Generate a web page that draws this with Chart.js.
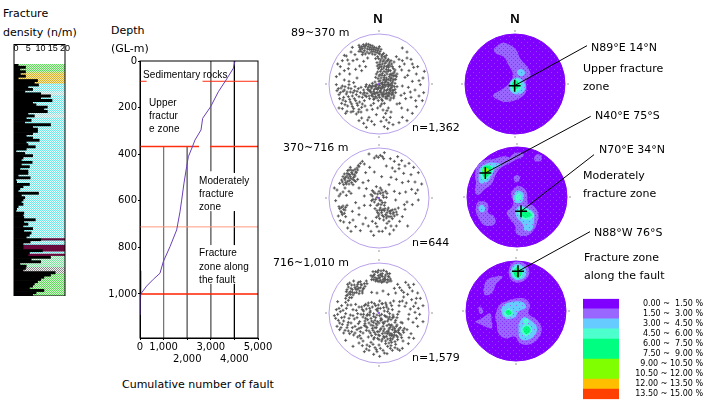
<!DOCTYPE html>
<html>
<head>
<meta charset="utf-8">
<script src="https://cdn.jsdelivr.net/npm/chart.js@4"></script>
<style>
  html, body { margin: 0; background: #fff; }
  #page { position: relative; width: 720px; height: 419px; overflow: hidden; }
  canvas { position: absolute; }
  .t { position: absolute; white-space: nowrap; color: #000; font: 11px "DejaVu Sans", sans-serif; transform: translateY(-50%); }
  .s { font: 10px "Liberation Sans", sans-serif; letter-spacing: 0.1px; }
  .b { font: bold 13px "Liberation Sans", sans-serif; transform: translate(-50%, -50%); }
</style>
</head>
<body>
<div id="page">
  <canvas id="density" width="64" height="252" style="left:8px;top:44px"></canvas>
  <canvas id="curve" width="180" height="320" style="left:95px;top:50px"></canvas>
  <canvas id="pts1" width="120" height="120" style="left:319px;top:24px"></canvas>
  <canvas id="pts2" width="120" height="120" style="left:319px;top:138px"></canvas>
  <canvas id="pts3" width="120" height="120" style="left:319px;top:253px"></canvas>
  <canvas id="net1" width="180" height="180" style="left:425px;top:-6px"></canvas>
  <canvas id="net2" width="180" height="180" style="left:427px;top:107px"></canvas>
  <canvas id="net3" width="180" height="180" style="left:426px;top:221px"></canvas>
  <canvas id="legend" width="120" height="110" style="left:583px;top:294px"></canvas>

  <div class="t" style="left:3px;top:13px">Fracture</div>
  <div class="t" style="left:3px;top:32px">density (n/m)</div>
  <div class="t" style="left:111px;top:30px">Depth</div>
  <div class="t" style="left:111px;top:48px">(GL-m)</div>
  <div class="t s" style="left:143px;top:74px">Sedimentary rocks</div>
  <div class="t s" style="left:149px;top:102px">Upper</div>
  <div class="t s" style="left:149px;top:115px">fractur</div>
  <div class="t s" style="left:149px;top:128px">e zone</div>
  <div class="t s" style="left:199px;top:180px">Moderately</div>
  <div class="t s" style="left:199px;top:193px">fracture</div>
  <div class="t s" style="left:199px;top:206px">zone</div>
  <div class="t s" style="left:199px;top:252px">Fracture</div>
  <div class="t s" style="left:199px;top:266px">zone along</div>
  <div class="t s" style="left:199px;top:279px">the fault</div>
  <div class="t" style="left:122px;top:384px">Cumulative number of fault</div>

  <div class="t b" style="left:378px;top:18px">N</div>
  <div class="t b" style="left:515px;top:18px">N</div>
  <div class="t" style="left:291px;top:32px">89~370 m</div>
  <div class="t" style="left:283px;top:147px">370~716 m</div>
  <div class="t" style="left:273px;top:262px">716~1,010 m</div>
  <div class="t" style="left:412px;top:127px">n=1,362</div>
  <div class="t" style="left:412px;top:242px">n=644</div>
  <div class="t" style="left:412px;top:357px">n=1,579</div>

  <div class="t" style="left:591px;top:47px">N89°E 14°N</div>
  <div class="t" style="left:583px;top:68px">Upper fracture</div>
  <div class="t" style="left:583px;top:86px">zone</div>
  <div class="t" style="left:595px;top:115px">N40°E 75°S</div>
  <div class="t" style="left:599px;top:149px">N70°E 34°N</div>
  <div class="t" style="left:583px;top:175px">Moderately</div>
  <div class="t" style="left:583px;top:193px">fracture zone</div>
  <div class="t" style="left:594px;top:232px">N88°W 76°S</div>
  <div class="t" style="left:584px;top:257px">Fracture zone</div>
  <div class="t" style="left:584px;top:275px">along the fault</div>
</div>

<script>
// fracture density per depth row, n/m
const fractureDensity = [
  0.9,3.9,1.6,3.9,1.8,3.9,0.9,8.8,7.5,9.2,4.9,6.8,3.6,10.1,14.1,10.1,14.7,6.8,8.2,12.8,11.4,12.8,4.9,7.5,4.2,6.2,3.6,14.1,
  6.8,8.8,8.8,6.8,4.2,6.8,9.5,4.2,4.9,7.9,4.2,0,3.6,6.8,2.9,2.2,6.6,2.2,5.5,1.6,4.9,4.9,0.9,5.8,0,0.3,5.5,2.9,1.6,0.9,9.2,
  2.2,3.6,2.9,2.2,2.9,0.9,0.3,0,3.2,2.9,3.2,7.9,3.2,4.9,2.9,6.8,3.2,6.2,5.5,4.2,10.1,5.8,2.9,2.9,2.9,10.8,5.5,4.9,14.1,6.2,
  10.1,1.6,4.2,3.9,2.9,16,14.1,11.4,10.1,8.8,7.5,6.8,5.5,11.4,8.2,6.8
];
// rock zones down the log: [zone, rows]
const zoneRuns = [
  ['green',4],['yellow',5],['cyan',4],['pale',1],['cyan',9],['pale',1],['cyan',55],['maroon',1],['cyan',2],['maroon',3],
  ['cyan',1],['maroon',1],['paleGreen',5],['gray',3],['green',10]
];
const densityTicks = [0, 5, 10, 15, 20];

// cumulative fault count against depth
const cumulativeCount = [4025,3955,3644,3319,2994,2655,2585,2330,2232,2048,1977,1864,1766,1695,1554,1271,988,847,565,282,30,0];
const cumulativeDepth = [0,31,82,132,196,246,296,339,365,411,453,524,597,647,725,797,861,911,937,966,1000,1090];
const countTicks = [0, 1000, 2000, 3000, 4000, 5000];
const depthTicks = [0, 200, 400, 600, 800, 1000];
// boundaries and guide lines: [x0, depth0, x1, depth1]
const boundary89 = [[0,87,280,87],[2650,87,5000,87]];
const boundary370 = [[0,367,2500,367],[2970,367,5000,367]];
const boundary716 = [[0,712,5000,712]];
const boundary1000 = [[0,1000,5000,1000]];
const guide1000 = [[1000,367,1000,1189]];
const guide2000 = [[2000,367,2000,1189]];
const guide3000 = [[3000,0,3000,473],[3000,645,3000,790],[3000,957,3000,1189]];
const guide4000 = [[4000,0,4000,480],[4000,645,4000,790],[4000,957,4000,1189]];
const axisMark = [[0,900,0,1000]];

// pole plots, x,y pairs with the net radius = 150 and north up
const poles1 = [
  -52,112,-47,118,-42,108,-38,120,-33,112,-29,104,-25,116,-21,108,-18,98,-14,110,-10,102,-6,94,-2,106,3,98,-44,100,-36,96,-56,104,-60,116,-24,96,-12,88,
  2,90,8,84,14,92,20,78,-4,82,-10,76,5,72,12,68,18,62,25,70,30,60,-6,64,0,58,7,52,14,48,22,44,28,50,34,40,40,52,46,36,-2,46,4,38,10,32,17,26,24,30,31,22,38,18,44,24,-8,30,0,24,6,18,13,12,20,8,27,4,34,10,41,6,50,14,36,70,45,66,52,82,60,74,62,52,
  -40,-8,-34,-16,-28,-4,-22,-12,-16,-22,-10,-8,-4,-16,2,-4,8,-14,14,-24,20,-6,26,-16,32,-28,38,-10,44,-20,-36,-28,-30,-36,-24,-26,-18,-38,-12,-30,-6,-42,0,-32,6,-26,12,-38,18,-30,24,-44,30,-36,36,-42,42,-30,48,-16,-46,-18,-42,-34,-20,2,-12,6,-6,-2,0,8,6,2,12,-6,18,4,24,-2,-14,-44,-2,-50,10,-50,
  -9,-3,3,-23,15,-11,28,-8,35,-21,-15,-6,-27,-18,9,-33,21,-38,33,-48,40,-4,45,-36,11,-1,-1,-12,-19,-30,27,-33,
  -128,-2,-122,-14,-116,-26,-110,-6,-104,-18,-98,-30,-92,-12,-86,-24,-80,-36,-74,-20,-68,-32,-62,-14,-56,-26,-50,-40,-118,-44,-112,-58,-106,-40,-100,-52,-94,-66,-88,-46,-82,-60,-76,-74,-70,-50,-64,-64,-58,-54,-52,-70,-96,-82,-84,-84,-120,-72,-68,-90,-54,-84,-42,-66,-36,-78,-24,-64,-128,22,-118,30,-104,12,-90,8,
  -110,70,-98,84,-84,96,-72,88,-90,60,-78,70,-66,74,-104,40,-116,52,-88,30,-70,44,-58,54,-46,68,-34,78,-80,110,
  70,108,84,96,96,74,104,50,90,40,76,60,78,20,100,8,112,30,124,-2,132,18,136,38,70,-6,88,-10,108,-18,120,-36,134,-26,66,-34,80,-44,62,-58,
  4,-66,12,-78,20,-88,28,-72,34,-100,22,-108,30,-116,16,-128,26,-134,42,-122,60,-116,70,-100,84,-110,100,-88,112,-68,-20,-76,-8,-92,-30,-100,-46,-118,-60,-110,-38,-130,-14,-122,
  -50,106,-45,113,-40,115,-35,105,-31,119,-27,110,-23,103,-19,114,-16,104,-12,96,-8,108,-4,100,0,92,1,112,6,104,-58,110,-54,98,-48,94,-41,90,-30,92,-20,90,
  10,88,16,82,22,86,28,74,32,66,-1,76,3,66,9,78,15,72,21,66,27,56,33,54,38,60,43,46,48,42,54,30,3,58,10,60,16,54,23,52,29,42,36,30,42,32,48,26,-5,54,1,50,8,44,15,38,21,36,27,38,33,28,39,26,45,14,52,22,-4,36,3,28,9,26,15,20,22,18,28,14,35,16,42,12,48,2,-10,20,-3,16,3,10,10,4,16,14,23,12,30,-1,37,2,
  -38,-2,-32,-10,-26,-22,-20,-6,-14,-16,-8,-26,-2,-10,4,-20,10,-8,16,-18,22,-28,28,-2,34,-14,40,-26,46,-8,-44,-26,-38,-38,-28,-44,-22,-34,-16,-46,-10,-38,-4,-26,2,-40,8,-46,14,-32,20,-42,26,-36,32,-18,38,-32,44,-42,50,-26,54,-8,-30,-20,-24,-8,-14,-28,-8,-14,-2,-34,4,-12,10,-30,16,-2,22,-20,28,-26,34,-4,40,-18,
  -126,-20,-114,-12,-108,-22,-102,-8,-96,-24,-90,-2,-84,-14,-78,-26,-72,-8,-66,-22,-60,-38,-54,-10,-48,-30,-120,-32,-108,-48,-102,-62,-92,-38,-86,-54,-80,-68,-74,-44,-66,-58,-60,-76,-50,-60,-44,-50,-110,-74,-100,-88,-78,-82,-62,-84,
  -94,72,-60,98,-40,52,-52,40,-66,18,-76,4,-92,46,-124,60,-104,86,-50,88,
  70,70,84,78,100,60,116,52,68,42,86,26,120,10,94,-24,76,-28,110,-50,96,-40,130,-50,54,-60,68,-72,86,-78,
  16,-58,24,-80,8,-60,36,-84,14,-100,6,-112,-4,-72,-16,-58,-34,-108,-52,-102,-22,-112
];
const poles2 = [
  -118,44,-112,54,-106,40,-100,62,-94,50,-88,70,-96,74,-84,58,-78,82,-90,84,-72,66,-66,90,-82,46,-104,72,-76,62,-70,78,-86,92,-92,60,-80,72,-74,52,-98,42,-62,98,-56,104,-50,110,-44,102,-126,24,-116,12,-108,18,-98,8,-90,20,-84,14,-102,30,-120,6,
  -8,126,-2,122,4,128,10,124,14,118,-14,120,-30,132,16,136,
  -24,10,-18,-4,-12,14,-6,2,0,20,6,-8,12,8,18,-14,24,14,-20,22,-14,-12,-2,-18,8,24,16,-22,22,2,4,30,-8,34,-26,-22,
  -12,-32,-4,-44,4,-30,10,-52,16,-38,22,-60,28,-30,34,-46,40,-36,46,-54,52,-42,-8,-58,2,-62,14,-66,30,-70,40,-62,58,-30,24,-44,8,-38,36,-56,
  -120,-26,-114,-40,-108,-24,-102,-36,-96,-22,-110,-50,-100,-56,-116,-68,-106,-72,-88,-74,-78,-66,-94,-90,-84,-100,-70,-86,-56,-98,-48,-78,-40,-60,-60,-30,-44,-22,-32,-84,-24,-100,-16,-112,-6,-86,10,-100,20,-90,32,-108,44,-96,52,-84,62,-70,86,-84,
  34,118,46,110,56,124,68,112,78,96,90,104,104,92,118,76,96,70,74,74,60,88,48,80,36,62,52,56,70,46,88,50,108,48,128,42,116,24,98,26,80,18,62,14,-40,76,-32,52,-48,46,-60,30,-64,56,-28,92,-14,78,8,64,22,96,
  84,-12,100,-20,118,-6,78,-34,-70,-14,-44,6,-38,28,-134,30,-130,-8,-122,-54,
  -110,48,-104,58,-100,46,-96,66,-92,72,-88,52,-86,64,-82,76,-78,56,-74,70,-72,86,-68,76,-64,84,-60,94,-84,84,-94,82,-102,54,-108,64,-90,42,-78,40,-70,50,
  -20,6,-16,18,-10,-4,-4,12,2,-6,4,14,10,-14,14,2,20,20,-22,-8,-6,-22,12,16,6,-20,
  -6,-38,0,-48,8,-44,12,-34,20,-50,26,-36,30,-56,36,-38,42,-48,48,-34,44,-44,18,-32,24,-54,2,-36,14,-56,-2,-54,32,-40,54,-50,
  -118,-32,-112,-28,-106,-34,-100,-28,-112,-44,-104,-46,
  -20,-70,-10,-76,0,-100,24,-76,36,-84,70,-56,76,-20,110,14,40,90,60,100,30,40,46,20,50,-6,-60,-50,-80,-40
];
const poles3 = [
  -22,100,-16,112,-10,96,-4,122,2,106,8,92,14,128,20,114,26,100,32,118,-18,124,-6,104,4,116,12,100,18,108,24,92,30,108,36,96,-12,106,0,94,6,126,16,96,-2,112,10,110,
  -98,64,-92,78,-86,56,-80,70,-74,84,-68,62,-62,92,-56,76,-50,66,-44,88,-38,96,-94,54,-88,90,-76,96,-70,72,-60,58,-84,74,-66,80,-52,84,-100,44,-92,38,-82,46,-46,74,-56,94,
  -52,18,-46,6,-40,26,-34,-4,-28,14,-22,32,-16,-10,-10,22,-4,6,2,36,8,-4,14,16,20,30,26,4,32,-12,38,22,44,36,-48,-12,-42,-24,-36,-8,-30,-30,-24,-16,-18,-38,-12,-22,-6,-6,0,-30,6,-16,12,-40,18,-26,24,-12,30,-34,36,-20,42,-6,48,-28,54,-14,60,4,
  -20,-46,-14,-58,-8,-44,-2,-66,4,-50,10,-62,16,-48,22,-70,28,-54,34,-76,40,-50,46,-66,52,-40,58,-58,64,-44,70,-30,-26,-60,-32,-72,-38,-52,-44,-38,20,-84,30,-90,40,-78,48,-86,56,-72,66,-66,72,-52,26,-100,36,-98,10,-78,0,-80,-14,-74,
  -3,14,9,28,17,-8,23,18,-27,2,-33,22,29,-18,-9,-32,5,-22,35,-38,41,-14,47,-46,13,-54,25,-62,37,-68,51,-56,-5,-56,-17,-28,-39,-40,33,-44,
  -134,-8,-128,10,-122,-22,-116,4,-110,-34,-104,-12,-98,14,-92,-28,-86,-6,-80,-44,-74,-18,-68,8,-62,-32,-56,-56,-126,-40,-118,-50,-106,-60,-96,-44,-88,-62,-76,-66,-66,-50,-58,-68,-112,22,-100,32,-124,34,-84,24,-70,26,-60,18,
  46,74,56,86,68,68,80,92,92,76,104,86,116,60,74,48,86,56,98,40,110,30,124,44,132,22,62,34,78,20,94,12,108,2,122,-4,132,-26,88,-18,102,-28,116,-40,84,-50,96,-62,72,-84,88,-92,104,-76,-22,62,-6,60,12,66,28,56,
  -60,-90,-48,-84,-36,-96,-24,-88,-12,-104,0,-96,12,-112,24,-122,-30,-112,-44,-116,-16,-124,2,-130,-6,-116,40,-112,56,-108,70,-106,-78,-100,-100,-82,
  -20,108,-14,116,-8,100,-2,128,4,98,10,118,16,104,22,124,28,110,34,102,-24,112,-10,124,0,104,6,112,12,94,20,100,26,118,30,96,-16,100,-4,96,
  -96,70,-90,60,-82,84,-78,54,-72,76,-66,70,-64,86,-58,66,-54,86,-48,72,-42,80,-36,88,-94,86,-86,64,-74,60,-62,74,-50,60,-80,62,-98,52,-88,46,
  -50,10,-44,22,-38,12,-32,30,-26,6,-20,18,-14,28,-8,10,-2,24,4,14,10,28,16,6,22,24,28,12,34,30,40,10,-46,-4,-40,-16,-34,-20,-28,-6,-22,-24,-16,-2,-10,-14,-4,-26,2,-8,8,-20,14,-32,20,-10,26,-24,32,-2,38,-36,44,-12,50,-22,56,-4,-42,-32,-36,-44,-30,-54,-24,-36,-18,-52,-12,-44,-6,-36,0,-56,6,-46,12,-28,18,-60,24,-38,30,-48,36,-62,42,-42,48,-52,54,-36,60,-48,66,-28,-22,-68,-16,-78,-10,-64,-4,-76,2,-68,8,-84,14,-70,20,-92,26,-78,32,-66,38,-88,44,-72,50,-94,56,-80,62,-62,68,-74,74,-58,-48,-60,-54,-44,-58,-26,-54,-4,30,-60,40,-66,46,-58,52,-68,58,-52,16,-74,24,-56,34,-82,
  -130,-16,-124,-4,-118,-30,-112,-14,-106,-24,-100,-2,-94,-36,-90,-16,-84,-30,-78,-8,-72,-40,-66,-14,-60,-46,-114,-44,-102,-52,-92,-54,-82,-56,-72,-60,-64,-72,-54,-76,-120,14,-108,8,-94,24,-78,10,-64,-2,
  50,60,62,76,74,62,88,84,100,66,112,44,70,36,82,30,104,20,118,14,60,22,90,-4,112,-16,76,-46,90,-74,
  -50,-98,-38,-108,-28,-100,-18,-94,-8,-110,4,-106,16,-120,34,-106,48,-104,62,-112
];

// density contours of the poles, one list per class: x,y outline pairs
const net1Lilac = [[-64,106,-39,123,-14,116,4,101,16,76,41,46,46,26,34,11,34,-19,26,-34,1,-49,-29,-54,-54,-46,-66,-34,-44,-19,-19,1,-6,26,-19,56,-34,81,-59,93]];
const net1Blue = [[6,34,8,42,20,44,30,34,22,24,10,26],[-17,1,-9,13,11,19,26,6,32,-11,21,-27,1,-31,-14,-21]];
const net1Aqua = [[-12,4,0,14,14,10,20,-6,12,-20,-2,-24,-12,-14]];
const net1Green = [[-9,2,0,10,10,6,12,-6,4,-16,-6,-14]];
const net1Pole = [-1, -5];
const net1Label = [216, 115];

const net2Lilac = [
  [-21,119,-6,132,14,132,21,124,1,114,-21,102,-46,89,-63,69,-76,39,-96,24,-116,6,-126,14,-123,44,-126,64,-119,94,-101,109,-71,114,-41,122],
  [52,120,60,128,72,125,74,112,62,106,52,110],
  [-11,59,-1,66,9,59,4,46,-6,46],
  [-123,-26,-116,-14,-96,-14,-86,-26,-86,-48,-71,-56,-64,-74,-76,-86,-101,-83,-116,-61,-123,-46],
  [-19,9,-6,29,14,31,29,14,34,-21,49,-26,64,-51,59,-81,49,-101,29,-116,-1,-111,-6,-86,-21,-66,-31,-46,-16,-31,-11,-16]
];
const net2Blue = [
  [-116,59,-109,89,-86,102,-61,102,-46,96,-66,84,-76,64,-91,44,-111,42],
  [-116,-31,-106,-23,-96,-31,-99,-44,-111,-44],
  [-11,4,-1,19,16,14,21,-1,14,-16,-1,-18,-11,-11],
  [-6,-41,9,-26,24,-31,49,-46,51,-71,44,-98,24,-101,17,-81,-1,-61]
];
const net2Aqua = [
  [-109,69,-103,89,-83,96,-71,86,-81,64,-96,51,-106,54],
  [-4,4,7,12,14,-1,7,-11,-3,-8],
  [1,-43,14,-31,34,-39,51,-51,47,-64,24,-68,9,-58]
];
const net2Green = [[-106,72,-99,92,-81,92,-76,82,-86,64,-99,59],[7,-41,17,-36,34,-44,44,-54,29,-62,14,-56]];
const net2Lime = [[-104,80,-94,88,-84,80,-94,68]];
const net2PoleA = [-95, 72];
const net2LabelA = [221, 242];
const net2PoleB = [12, -43];
const net2LabelB = [231, 127];

const net3Lilac = [
  [-23,118,-13,143,10,148,32,138,40,113,27,93,2,85,-16,95],
  [-98,63,-88,93,-63,103,-40,103,-58,83,-73,53,-93,48],
  [-113,11,-106,13,-98,-2,-106,-9,-111,-2],
  [-123,-32,-103,-22,-78,-7,-73,-32,-73,-52,-103,-42],
  [-63,-17,-53,13,-33,28,22,38,42,18,37,-7,62,-27,77,-52,67,-82,42,-100,12,-97,-3,-77,-33,-82,-53,-67,-58,-37]
];
const net3Blue = [
  [-18,118,-6,138,12,140,30,123,27,103,7,93,-10,100],
  [-46,3,-33,21,17,28,30,11,7,-2,-3,-19,-33,-22],
  [7,-42,22,-19,42,-27,62,-47,57,-72,34,-87,12,-82]
];
const net3Aqua = [
  [-13,118,0,135,17,131,22,113,12,98,-4,100],
  [-38,-2,-23,8,-8,-2,-16,-15,-33,-15],
  [14,-55,30,-39,47,-52,44,-69,24,-75],
  [22,-25,34,-22,37,-35,25,-37]
];
const net3Green = [[-8,120,4,131,15,123,17,111,7,100,-4,105],[-33,-2,-23,3,-13,-5,-23,-12],[20,-55,32,-45,44,-57,30,-69]];
const net3Pole = [6, 119];
const net3Label = [222, 238];

const legendLabels = ['0.00 ~  1.50 %','1.50 ~  3.00 %','3.00 ~  4.50 %','4.50 ~  6.00 %','6.00 ~  7.50 %','7.50 ~  9.00 %','9.00 ~ 10.50 %','10.50 ~ 12.00 %','12.00 ~ 13.50 %','13.50 ~ 15.00 %'];
const legendColors = ['#8000ff','#9966ff','#66ccff','#4dffcc','#00ff80','#00ff80','#80ff00','#80ff00','#ffbf00','#ff4000'];

const FONT = 'DejaVu Sans';
const NET_RADIUS = 150;

Chart.defaults.animation = false;
Chart.defaults.responsive = false;
Chart.defaults.layout.autoPadding = false;
Chart.defaults.plugins.legend.display = false;
Chart.defaults.plugins.tooltip.enabled = false;
Chart.defaults.font.family = FONT;
Chart.defaults.color = '#000';

function pairs(flat) {
  const out = [];
  for (let i = 0; i < flat.length; i += 2) out.push({ x: flat[i], y: flat[i + 1] });
  return out;
}

// screen-tone fill like the original bitmap
function tone(base, dot, step) {
  const c = document.createElement('canvas');
  c.width = c.height = step;
  const g = c.getContext('2d');
  g.fillStyle = base;
  g.fillRect(0, 0, step, step);
  g.fillStyle = dot;
  g.fillRect(0, 0, 1, 1);
  if (step % 2 === 0) g.fillRect(step / 2, step / 2, 1, 1);
  return g.createPattern(c, 'repeat');
}

const zoneFills = {
  green: tone('#d0f8c8', '#60d860', 2),
  yellow: tone('#f8e8a0', '#d8b030', 2),
  cyan: tone('#e4ffff', '#70e8e8', 2),
  pale: tone('#f4f4f4', '#d0d0d0', 2),
  maroon: '#6a0a3c',
  paleGreen: tone('#e0fae8', '#80e0a0', 2),
  gray: tone('#f0f0f0', '#8a8a8a', 2)
};
const zoneRows = zoneRuns.flatMap(([zone, rows]) => Array(rows).fill(zone));

// outline round the whole canvas / plot
const boxPlugin = {
  id: 'box',
  afterDatasetsDraw(chart) {
    const a = chart.chartArea, ctx = chart.ctx;
    ctx.save();
    ctx.strokeStyle = '#000';
    ctx.lineWidth = 1;
    const top = chart.canvas.id === 'density' ? 0.5 : a.top;
    ctx.strokeRect(a.left, top, a.right - a.left, a.bottom - top);
    ctx.restore();
  }
};

new Chart(document.getElementById('density'), {
  type: 'bar',
  data: {
    labels: fractureDensity.map((_, i) => i),
    datasets: [
      { data: fractureDensity.map(v => [-0.8, v]), backgroundColor: '#000', order: 0 },
      { data: fractureDensity.map(v => [v, 20]), backgroundColor: fractureDensity.map((_, i) => zoneFills[zoneRows[i]] || zoneFills.cyan), order: 1 }
    ]
  },
  plugins: [boxPlugin],
  options: {
    indexAxis: 'y',
    layout: { padding: { left: 6, right: 5 } },
    datasets: { bar: { barPercentage: 1, categoryPercentage: 1, grouped: false } },
    scales: {
      x: {
        position: 'top', min: -0.8, max: 20,
        afterBuildTicks: a => { a.ticks = densityTicks.map(value => ({ value })); },
        afterFit: a => { a.height = 20; },
        grid: { display: false }, border: { display: false },
        ticks: { autoSkip: false, maxRotation: 0, padding: 2, font: { size: 9, family: 'Liberation Sans' } }
      },
      y: { display: false }
    }
  }
});

function segments(list, color, width) {
  return list.map(s => ({ data: pairs(s), showLine: true, borderColor: color, borderWidth: width, pointRadius: 0 }));
}

new Chart(document.getElementById('curve'), {
  type: 'scatter',
  data: {
    datasets: [
      { data: cumulativeCount.map((x, i) => ({ x, y: cumulativeDepth[i] })), showLine: true, borderColor: '#6a3fb8', borderWidth: 1, pointRadius: 0 },
      ...segments(axisMark, '#000', 2.5),
      ...segments(boundary89, '#ff3010', 1),
      ...segments(boundary370, '#ff3010', 1.5),
      ...segments(boundary716, '#ff9a80', 1),
      ...segments(boundary1000, '#ff2000', 1.5),
      ...segments(guide1000, '#777', 1),
      ...segments(guide2000, '#777', 1),
      ...segments(guide3000, '#777', 1),
      ...segments(guide4000, '#000', 1)
    ]
  },
  plugins: [boxPlugin],
  options: {
    layout: { padding: { top: 11, right: 17 } },
    scales: {
      x: {
        min: 0, max: 5000,
        afterBuildTicks: a => { a.ticks = countTicks.map(value => ({ value })); },
        afterFit: a => { a.height = 32; },
        grid: { drawOnChartArea: false, tickLength: 2, color: '#000' },
        border: { color: '#000' },
        ticks: {
          autoSkip: false, maxRotation: 0, padding: 1, font: { size: 10 },
          callback: v => {
            const s = v.toLocaleString('en-US');
            return (v === 2000 || v === 4000) ? ['', s] : s;
          }
        }
      },
      y: {
        reverse: true, min: 0, max: 1189,
        afterBuildTicks: a => { a.ticks = depthTicks.map(value => ({ value })); },
        afterFit: a => { a.width = 45; },
        grid: { drawOnChartArea: false, tickLength: 2, color: '#000' },
        border: { color: '#000' },
        ticks: { autoSkip: false, padding: 1, font: { size: 10 }, callback: v => v.toLocaleString('en-US') }
      }
    }
  }
});

// net circle and its N/E/S/W marks, sized through the scales
function netPlugin(fill, edge) {
  return {
    id: 'netCircle',
    beforeDatasetsDraw(chart) {
      const sx = chart.scales.x, sy = chart.scales.y, ctx = chart.ctx;
      const cx = sx.getPixelForValue(0), cy = sy.getPixelForValue(0);
      const r = sx.getPixelForValue(NET_RADIUS) - cx;
      ctx.save();
      ctx.beginPath();
      ctx.arc(cx, cy, r, 0, Math.PI * 2);
      ctx.fillStyle = fill;
      ctx.fill();
      ctx.strokeStyle = edge;
      ctx.stroke();
      ctx.strokeStyle = '#999';
      ctx.beginPath();
      ctx.moveTo(cx, cy - r - 2); ctx.lineTo(cx, cy - r - 4);
      ctx.moveTo(cx, cy + r + 2); ctx.lineTo(cx, cy + r + 4);
      ctx.moveTo(cx - r - 2, cy); ctx.lineTo(cx - r - 4, cy);
      ctx.moveTo(cx + r + 2, cy); ctx.lineTo(cx + r + 4, cy);
      ctx.stroke();
      ctx.restore();
    }
  };
}

function netScales(range) {
  return {
    x: { display: false, min: -range, max: range },
    y: { display: false, min: -range, max: range }
  };
}

function drawPoles(id, poles) {
  new Chart(document.getElementById(id), {
    type: 'scatter',
    data: {
      datasets: [
        { data: [{ x: 0, y: 0 }], pointStyle: 'circle', pointRadius: 1, backgroundColor: '#7a30e0', borderWidth: 0 },
        { data: pairs(poles), pointStyle: 'cross', pointRadius: 1.5, borderColor: '#555', borderWidth: 1 }
      ]
    },
    plugins: [netPlugin('#fff', '#b8a0e8')],
    options: { layout: { padding: 0 }, scales: netScales(180) }
  });
}

drawPoles('pts1', poles1);
drawPoles('pts2', poles2);
drawPoles('pts3', poles3);

const contourFills = [
  tone('#9966ff', '#8a30ff', 4),
  tone('#66ccff', '#9966ff', 6),
  tone('#4dffcc', '#66ccff', 4),
  tone('#00ff80', '#00e070', 4),
  '#80ff00'
];

function contours(list, level) {
  return list.map(flat => ({
    data: pairs(flat.concat(flat.slice(0, 2))),
    showLine: true, tension: 0.4, fill: 'shape', backgroundColor: contourFills[level],
    borderWidth: 0, pointRadius: 0, order: 10 - level
  }));
}

function markers(pole, label) {
  return [
    { data: pairs(pole), pointStyle: 'cross', pointRadius: 6, borderColor: '#000', borderWidth: 1.5, order: 0 },
    { data: pairs(pole.concat(label)), showLine: true, borderColor: '#000', borderWidth: 1, pointRadius: 0, order: 0 }
  ];
}

function drawNet(id, levels, marks) {
  new Chart(document.getElementById(id), {
    type: 'scatter',
    data: { datasets: [...marks, ...levels.flatMap((list, level) => contours(list, level))] },
    plugins: [netPlugin(tone('#8000ff', '#9840ff', 6), '#8000ff')],
    options: { layout: { padding: 0 }, scales: netScales(270) }
  });
}

drawNet('net1', [net1Lilac, net1Blue, net1Aqua, net1Green], markers(net1Pole, net1Label));
drawNet('net2', [net2Lilac, net2Blue, net2Aqua, net2Green, net2Lime], [...markers(net2PoleA, net2LabelA), ...markers(net2PoleB, net2LabelB)]);
drawNet('net3', [net3Lilac, net3Blue, net3Aqua, net3Green], markers(net3Pole, net3Label));

new Chart(document.getElementById('legend'), {
  type: 'bar',
  data: {
    labels: legendLabels,
    datasets: [{ data: legendLabels.map(() => 1), backgroundColor: legendColors, barPercentage: 1, categoryPercentage: 1 }]
  },
  options: {
    indexAxis: 'y',
    layout: { padding: 0 },
    scales: {
      x: { display: false, min: 0, max: 1 },
      y: {
        position: 'right',
        afterFit: a => { a.width = 84; },
        grid: { display: false }, border: { display: false },
        ticks: { autoSkip: false, crossAlign: 'far', padding: 0, font: { size: 8 } }
      }
    }
  }
});
</script>
</body>
</html>
